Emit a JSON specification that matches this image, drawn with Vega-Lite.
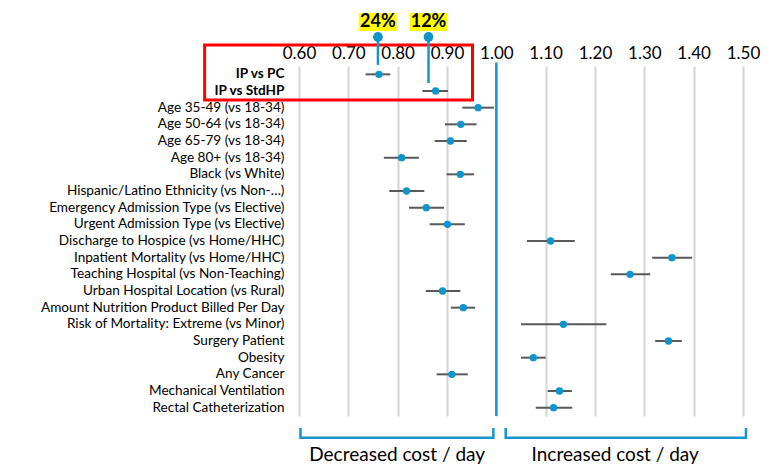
{
  "$schema": "https://vega.github.io/schema/vega-lite/v6.json",
  "width": 444,
  "height": 350,
  "autosize": "none",
  "padding": {"left": 299, "top": 66, "right": 34, "bottom": 49},
  "background": "white",
  "config": {"view": {"stroke": null}, "font": "Lato",
    "axisX": {"orient": "top", "values": [0.6, 0.7, 0.8, 0.9, 1.0, 1.1, 1.2, 1.3, 1.4, 1.5], "format": ".2f",
      "grid": true, "gridColor": "#d4d4d4", "gridWidth": 2, "domain": false, "ticks": false, "title": null,
      "labelFontSize": 17, "labelColor": "#000000", "labelPadding": 4, "labelFlush": false}},
  "datasets": {
    "effects": [
      {"label": "IP vs PC", "est": 0.762, "lo": 0.735, "hi": 0.785},
      {"label": "IP vs StdHP", "est": 0.877, "lo": 0.850, "hi": 0.902},
      {"label": "Age 35-49 (vs 18-34)", "est": 0.963, "lo": 0.931, "hi": 0.995},
      {"label": "Age 50-64 (vs 18-34)", "est": 0.928, "lo": 0.896, "hi": 0.960},
      {"label": "Age 65-79 (vs 18-34)", "est": 0.907, "lo": 0.875, "hi": 0.940},
      {"label": "Age 80+ (vs 18-34)", "est": 0.808, "lo": 0.772, "hi": 0.843},
      {"label": "Black (vs White)", "est": 0.927, "lo": 0.899, "hi": 0.955},
      {"label": "Hispanic/Latino Ethnicity (vs Non-…)", "est": 0.818, "lo": 0.783, "hi": 0.854},
      {"label": "Emergency Admission Type (vs Elective)", "est": 0.858, "lo": 0.823, "hi": 0.894},
      {"label": "Urgent Admission Type (vs Elective)", "est": 0.901, "lo": 0.865, "hi": 0.936},
      {"label": "Discharge to Hospice (vs Home/HHC)", "est": 1.110, "lo": 1.062, "hi": 1.159},
      {"label": "Inpatient Mortality (vs Home/HHC)", "est": 1.356, "lo": 1.316, "hi": 1.397},
      {"label": "Teaching Hospital (vs Non-Teaching)", "est": 1.271, "lo": 1.232, "hi": 1.312},
      {"label": "Urban Hospital Location (vs Rural)", "est": 0.891, "lo": 0.857, "hi": 0.927},
      {"label": "Amount Nutrition Product Billed Per Day", "est": 0.933, "lo": 0.908, "hi": 0.957},
      {"label": "Risk of Mortality: Extreme (vs Minor)", "est": 1.136, "lo": 1.050, "hi": 1.223},
      {"label": "Surgery Patient", "est": 1.349, "lo": 1.322, "hi": 1.376},
      {"label": "Obesity", "est": 1.075, "lo": 1.050, "hi": 1.100},
      {"label": "Any Cancer", "est": 0.910, "lo": 0.879, "hi": 0.942},
      {"label": "Mechanical Ventilation", "est": 1.128, "lo": 1.104, "hi": 1.153},
      {"label": "Rectal Catheterization", "est": 1.116, "lo": 1.080, "hi": 1.154}
    ],
    "markers": [
      {"pct": "24%", "x": 0.760, "bx1": 0.721, "bx2": 0.798, "by1": -3.53, "by2": -2.5, "ty": -3.03, "cy": -2.16, "ly": -0.56},
      {"pct": "12%", "x": 0.8625, "bx1": 0.824, "bx2": 0.901, "by1": -3.53, "by2": -2.5, "ty": -3.03, "cy": -2.16, "ly": 0.47}
    ],
    "redbox": [{"x1": 0.4087, "x2": 0.9517, "y1": -1.7, "y2": 1.443}],
    "refline": [{"x": 1.0, "y1": -0.7, "y2": 19.5}],
    "brackets": [
      {"b": "L", "o": 1, "x": 0.603, "y": 20.19},
      {"b": "L", "o": 2, "x": 0.603, "y": 20.74},
      {"b": "L", "o": 3, "x": 0.994, "y": 20.74},
      {"b": "L", "o": 4, "x": 0.994, "y": 20.19},
      {"b": "R", "o": 1, "x": 1.019, "y": 20.19},
      {"b": "R", "o": 2, "x": 1.019, "y": 20.74},
      {"b": "R", "o": 3, "x": 1.506, "y": 20.74},
      {"b": "R", "o": 4, "x": 1.506, "y": 20.19}
    ],
    "bracketText": [
      {"t": "Decreased cost / day", "x": 0.799, "y": 21.73},
      {"t": "Increased cost / day", "x": 1.241, "y": 21.73}
    ]
  },
  "layer": [
    {
      "data": {"name": "effects"},
      "mark": {"type": "rule", "stroke": "#595959", "strokeWidth": 2},
      "encoding": {
        "x": {"field": "lo", "type": "quantitative", "title": null,
          "scale": {"domain": [0.6, 1.5], "nice": false, "zero": false}},
        "x2": {"field": "hi"},
        "y": {"field": "label", "type": "nominal", "sort": null, "title": null,
          "scale": {"type": "band", "padding": 0},
          "axis": {"ticks": false, "domain": false, "grid": false, "labelFontSize": 13.6, "labelColor": "#000000",
            "labelPadding": 15, "labelLimit": 300,
            "labelFontWeight": {"condition": {"test": "datum.value == 'IP vs PC' || datum.value == 'IP vs StdHP'", "value": "bold"}, "value": "normal"}}}
      }
    },
    {
      "data": {"name": "effects"},
      "mark": {"type": "circle", "size": 55, "color": "#0f95cc", "opacity": 1},
      "encoding": {
        "x": {"field": "est", "type": "quantitative", "title": null, "scale": {"domain": [0.6, 1.5], "nice": false, "zero": false}},
        "y": {"field": "label", "type": "nominal", "sort": null, "axis": null, "scale": {"type": "band", "padding": 0}}
      }
    },
    {
      "data": {"name": "refline"},
      "mark": {"type": "rule", "stroke": "#1496d0", "strokeWidth": 2.5},
      "encoding": {
        "x": {"field": "x", "type": "quantitative", "title": null, "scale": {"domain": [0.6, 1.5], "nice": false, "zero": false}},
        "y": {"field": "y1", "type": "quantitative", "axis": null, "scale": {"domain": [-0.5, 19.5], "reverse": true, "nice": false, "zero": false}},
        "y2": {"field": "y2"}
      }
    },
    {
      "data": {"name": "redbox"},
      "mark": {"type": "rect", "fill": "white", "fillOpacity": 0, "stroke": "#ff0000", "strokeWidth": 3},
      "encoding": {
        "x": {"field": "x1", "type": "quantitative", "title": null, "scale": {"domain": [0.6, 1.5], "nice": false, "zero": false}},
        "x2": {"field": "x2"},
        "y": {"field": "y1", "type": "quantitative", "axis": null, "scale": {"domain": [-0.5, 19.5], "reverse": true, "nice": false, "zero": false}},
        "y2": {"field": "y2"}
      }
    },
    {
      "data": {"name": "markers"},
      "mark": {"type": "rule", "stroke": "#1496d0", "strokeWidth": 2.5},
      "encoding": {
        "x": {"field": "x", "type": "quantitative", "title": null, "scale": {"domain": [0.6, 1.5], "nice": false, "zero": false}},
        "y": {"field": "cy", "type": "quantitative", "axis": null, "scale": {"domain": [-0.5, 19.5], "reverse": true, "nice": false, "zero": false}},
        "y2": {"field": "ly"}
      }
    },
    {
      "data": {"name": "markers"},
      "mark": {"type": "circle", "size": 95, "color": "#0f95cc", "opacity": 1},
      "encoding": {
        "x": {"field": "x", "type": "quantitative", "title": null, "scale": {"domain": [0.6, 1.5], "nice": false, "zero": false}},
        "y": {"field": "cy", "type": "quantitative", "axis": null, "scale": {"domain": [-0.5, 19.5], "reverse": true, "nice": false, "zero": false}}
      }
    },
    {
      "data": {"name": "markers"},
      "mark": {"type": "rect", "fill": "#ffff00"},
      "encoding": {
        "x": {"field": "bx1", "type": "quantitative", "title": null, "scale": {"domain": [0.6, 1.5], "nice": false, "zero": false}},
        "x2": {"field": "bx2"},
        "y": {"field": "by1", "type": "quantitative", "axis": null, "scale": {"domain": [-0.5, 19.5], "reverse": true, "nice": false, "zero": false}},
        "y2": {"field": "by2"}
      }
    },
    {
      "data": {"name": "markers"},
      "mark": {"type": "text", "fontSize": 18, "fontWeight": "bold", "color": "#000000", "baseline": "middle", "align": "center"},
      "encoding": {
        "x": {"field": "x", "type": "quantitative", "title": null, "scale": {"domain": [0.6, 1.5], "nice": false, "zero": false}},
        "y": {"field": "ty", "type": "quantitative", "axis": null, "scale": {"domain": [-0.5, 19.5], "reverse": true, "nice": false, "zero": false}},
        "text": {"field": "pct"}
      }
    },
    {
      "data": {"name": "brackets"},
      "mark": {"type": "line", "stroke": "#1496d0", "strokeWidth": 2.5, "strokeJoin": "miter", "interpolate": "linear"},
      "encoding": {
        "x": {"field": "x", "type": "quantitative", "title": null, "scale": {"domain": [0.6, 1.5], "nice": false, "zero": false}},
        "y": {"field": "y", "type": "quantitative", "axis": null, "scale": {"domain": [-0.5, 19.5], "reverse": true, "nice": false, "zero": false}},
        "detail": {"field": "b"},
        "order": {"field": "o"}
      }
    },
    {
      "data": {"name": "bracketText"},
      "mark": {"type": "text", "fontSize": 19, "color": "#000000", "baseline": "middle", "align": "center"},
      "encoding": {
        "x": {"field": "x", "type": "quantitative", "title": null, "scale": {"domain": [0.6, 1.5], "nice": false, "zero": false}},
        "y": {"field": "y", "type": "quantitative", "axis": null, "scale": {"domain": [-0.5, 19.5], "reverse": true, "nice": false, "zero": false}},
        "text": {"field": "t"}
      }
    }
  ],
  "resolve": {"scale": {"y": "independent"}}
}
